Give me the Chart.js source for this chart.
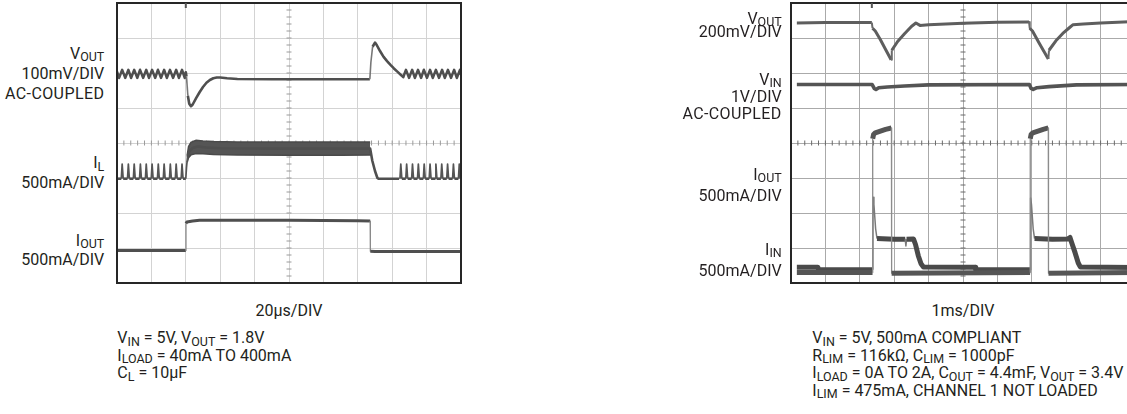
<!DOCTYPE html>
<html><head><meta charset="utf-8">
<script src="https://cdn.jsdelivr.net/npm/chart.js@4.4.1/dist/chart.umd.min.js"></script>
<style>
html,body{margin:0;padding:0;background:#fff;}
body{width:1127px;height:414px;overflow:hidden;position:relative;font-family:Roboto,"Liberation Sans",sans-serif;color:#231f20;}
.t{position:absolute;white-space:nowrap;font-size:16px;line-height:16px;}
.n{position:absolute;white-space:nowrap;font-size:16px;line-height:16px;}
.rl{right:1022.7px;text-align:right;}
.rr{right:345.3px;text-align:right;}
.w{letter-spacing:0.4px;}
sub{font-size:0.78em;vertical-align:baseline;position:relative;top:0.24em;letter-spacing:0;}
.cw{position:absolute;}
</style></head><body>

<div class="cw" style="left:107px;top:-6.7px;width:364px;height:300px;"><canvas id="cl"></canvas></div>
<div class="cw" style="left:781px;top:-6.7px;width:364px;height:300px;"><canvas id="cr"></canvas></div>

<div class="t rl" style="top:45.5px">V<sub>OUT</sub></div>
<div class="t rl" style="top:65.5px">100mV/DIV</div>
<div class="t rl w" style="top:85.5px">AC-COUPLED</div>
<div class="t rl" style="top:155px">I<sub>L</sub></div>
<div class="t rl" style="top:174.8px">500mA/DIV</div>
<div class="t rl" style="top:232.5px">I<sub>OUT</sub></div>
<div class="t rl" style="top:251.5px">500mA/DIV</div>

<div class="t rr" style="top:10.5px">V<sub>OUT</sub></div>
<div class="t rr" style="top:23.8px">200mV/DIV</div>
<div class="t rr" style="top:71.5px">V<sub>IN</sub></div>
<div class="t rr" style="top:89.2px">1V/DIV</div>
<div class="t rr w" style="top:105.8px">AC-COUPLED</div>
<div class="t rr" style="top:166.5px">I<sub>OUT</sub></div>
<div class="t rr" style="top:188.2px">500mA/DIV</div>
<div class="t rr" style="top:241.5px">I<sub>IN</sub></div>
<div class="t rr" style="top:262.5px">500mA/DIV</div>

<div class="n" style="left:189px;width:200px;text-align:center;top:302.5px">20µs/DIV</div>
<div class="n" style="left:863px;width:200px;text-align:center;top:302.5px">1ms/DIV</div>

<div class="n" style="left:117.3px;top:329.8px">V<sub>IN</sub> = 5V, V<sub>OUT</sub> = 1.8V</div>
<div class="n" style="left:117.3px;top:347.5px">I<sub>LOAD</sub> = 40mA TO 400mA</div>
<div class="n" style="left:117.3px;top:365px">C<sub>L</sub> = 10µF</div>

<div class="n" style="left:812.3px;top:329.8px">V<sub>IN</sub> = 5V, 500mA COMPLIANT</div>
<div class="n" style="left:812.3px;top:347.5px">R<sub>LIM</sub> = 116kΩ, C<sub>LIM</sub> = 1000pF</div>
<div class="n" style="left:812.3px;top:365.2px">I<sub>LOAD</sub> = 0A TO 2A, C<sub>OUT</sub> = 4.4mF, V<sub>OUT</sub> = 3.4V</div>
<div class="n" style="left:812.3px;top:382.5px">I<sub>LIM</sub> = 475mA, CHANNEL 1 NOT LOADED</div>

<script>
// ---- Left scope (20us/DIV): x in divisions 0..10, y in divisions 0..8 ----
const L_VOUT = [[0,6.04],[0.06,5.86],[0.15,6.09],[0.24,5.86],[0.33,6.09],[0.41,5.86],[0.50,6.09],[0.59,5.86],[0.67,6.09],[0.76,5.86],[0.85,6.09],[0.93,5.86],[1.02,6.09],[1.11,5.86],[1.19,6.09],[1.28,5.86],[1.37,6.09],[1.45,5.86],[1.54,6.09],[1.63,5.86],[1.72,6.09],[1.80,5.86],[1.89,6.09],[1.97,5.86],[2.00,6.02],[2.02,5.90],[2.06,5.35],[2.10,5.12],[2.15,5.05],[2.20,5.10],[2.30,5.28],[2.40,5.45],[2.50,5.60],[2.60,5.72],[2.70,5.80],[2.80,5.85],[2.90,5.87],[3.00,5.87],[3.20,5.85],[3.50,5.83],[4.50,5.82],[6.00,5.82],[7.35,5.82],[7.38,6.30],[7.43,6.75],[7.50,6.87],[7.55,6.80],[7.65,6.62],[7.75,6.46],[7.85,6.34],[7.95,6.23],[8.05,6.13],[8.15,6.04],[8.27,5.93],[8.32,5.88],[8.40,6.09],[8.49,5.86],[8.58,6.09],[8.66,5.86],[8.75,6.09],[8.84,5.86],[8.92,6.09],[9.01,5.86],[9.10,6.09],[9.18,5.86],[9.27,6.09],[9.36,5.86],[9.45,6.09],[9.53,5.86],[9.62,6.09],[9.71,5.86],[9.80,6.09],[9.88,5.86],[9.97,6.09],[10.0,5.95]];
const L_IL = [[0,2.98],[0.125,2.98],[0.15,3.40],[0.18,2.98],[0.305,2.98],[0.33,3.40],[0.36,2.98],[0.475,2.98],[0.50,3.40],[0.53,2.98],[0.655,2.98],[0.68,3.40],[0.71,2.98],[0.825,2.98],[0.85,3.40],[0.88,2.98],[0.995,2.98],[1.02,3.40],[1.05,2.98],[1.175,2.98],[1.20,3.40],[1.23,2.98],[1.345,2.98],[1.37,3.40],[1.40,2.98],[1.525,2.98],[1.55,3.40],[1.58,2.98],[1.695,2.98],[1.72,3.40],[1.75,2.98],[1.865,2.98],[1.89,3.40],[1.92,2.98],[2.00,2.98],[2.02,3.30],[2.05,3.60],[2.10,3.76],[2.20,3.86],[2.35,3.90],[2.60,3.87],[3.00,3.85],[5.00,3.84],[7.36,3.84],[7.42,3.50],[7.50,3.20],[7.57,3.00],[7.60,2.98],[8.20,2.98],[8.225,2.98],[8.25,3.40],[8.28,2.98],[8.395,2.98],[8.42,3.40],[8.45,2.98],[8.565,2.98],[8.59,3.40],[8.62,2.98],[8.735,2.98],[8.76,3.40],[8.79,2.98],[8.905,2.98],[8.93,3.40],[8.96,2.98],[9.075,2.98],[9.10,3.40],[9.13,2.98],[9.245,2.98],[9.27,3.40],[9.30,2.98],[9.415,2.98],[9.44,3.40],[9.47,2.98],[9.585,2.98],[9.61,3.40],[9.64,2.98],[9.755,2.98],[9.78,3.40],[9.81,2.98],[9.925,2.98],[9.95,3.40],[9.98,2.98],[10,2.98]];
const L_IL_HI = [[2.04,3.65],[2.08,3.90],[2.15,4.02],[2.30,4.08],[2.50,4.06],[2.80,4.04],[3.50,4.03],[5.00,4.03],[6.50,4.03],[7.36,4.03]];
const L_IL_LO = [[2.04,3.45],[2.08,3.58],[2.15,3.66],[2.30,3.70],[2.50,3.69],[2.80,3.67],[3.50,3.66],[5.00,3.65],[6.50,3.65],[7.36,3.66]];
const L_IOUT = [[0,0.93],[2.00,0.93],[2.005,1.70],[2.03,1.74],[2.20,1.77],[2.40,1.79],[3.00,1.79],[5.00,1.79],[7.00,1.78],[7.36,1.77],[7.365,0.91],[7.50,0.90],[10,0.90]];
const L_TRIG = 2.0;

// ---- Right scope (1ms/DIV) ----
const R_VOUT = [[0.17,7.43],[1.00,7.44],[2.00,7.44],[2.35,7.44],[2.37,7.28],[2.45,7.20],[2.60,6.95],[2.75,6.67],[2.91,6.38],[2.93,6.65],[3.10,6.90],[3.30,7.12],[3.50,7.33],[3.63,7.43],[3.75,7.36],[4.00,7.38],[5.00,7.42],[6.00,7.45],[6.92,7.46],[6.94,7.28],[7.02,7.20],[7.20,6.88],[7.35,6.62],[7.48,6.40],[7.50,6.65],[7.70,6.92],[7.90,7.13],[8.10,7.30],[8.20,7.38],[8.50,7.40],[9.00,7.43],[10.00,7.47]];
const R_VIN = [[0.17,5.67],[2.36,5.67],[2.42,5.56],[2.47,5.53],[2.55,5.58],[2.80,5.60],[3.30,5.63],[4.00,5.66],[6.93,5.67],[6.98,5.56],[7.04,5.53],[7.15,5.58],[7.50,5.61],[8.30,5.66],[10.00,5.67]];
const R_IOUT = [[0.17,0.30],[2.37,0.30],[2.375,4.12],[2.40,4.24],[2.45,4.29],[2.60,4.34],[2.75,4.39],[2.92,4.43],[2.925,0.28],[6.95,0.30],[6.955,4.12],[6.98,4.24],[7.03,4.29],[7.18,4.34],[7.33,4.39],[7.48,4.43],[7.485,0.28],[10,0.30]];
const R_IIN = [[0.17,0.45],[0.78,0.45],[0.80,0.38],[2.38,0.38],[2.385,2.45],[2.41,2.25],[2.46,1.55],[2.50,1.27],[3.00,1.25],[3.32,1.25],[3.34,1.06],[3.36,1.25],[3.56,1.26],[3.62,1.10],[3.70,0.78],[3.78,0.55],[3.85,0.46],[5.35,0.45],[5.37,0.38],[6.96,0.38],[6.965,2.43],[6.99,2.25],[7.04,1.55],[7.08,1.27],[7.60,1.25],[8.05,1.26],[8.11,1.30],[8.17,1.12],[8.26,0.86],[8.35,0.57],[8.41,0.46],[10.00,0.44]];
const R_TRIG = 2.35;

const X_DIVS = [0,10], Y_DIVS = [0,8];

function pts(a){return a.map(p=>({x:p[0],y:p[1]}));}
function steep(c){const dx=Math.abs(c.p1.x-c.p0.x), dy=Math.abs(c.p1.y-c.p0.y); return dy>5 && dy>6*dx;}
const edgeSeg = (col,w)=>({
  borderWidth: c => steep(c) ? w : undefined,
  borderColor: c => steep(c) ? col : undefined
});
function trace(data,color,w,edgeCol,edgeW){
  return {data:pts(data),borderColor:color,borderWidth:w,pointRadius:0,tension:0,fill:false,
          borderJoinStyle:'round',borderCapStyle:'butt',segment:edgeSeg(edgeCol||'#8c8c8c',edgeW||1.3)};
}
const scopePlugin = {
  id:'scope',
  beforeDatasetsDraw(chart,args,opt){
    const {ctx,scales:{x,y}} = chart;
    ctx.save();
    ctx.strokeStyle = opt.tickColor; ctx.lineWidth = 1;
    const yc = y.getPixelForValue((Y_DIVS[0]+Y_DIVS[1])/2), xc = x.getPixelForValue((X_DIVS[0]+X_DIVS[1])/2);
    ctx.beginPath();
    for(let v=X_DIVS[0]; v<=X_DIVS[1]+1e-9; v+=0.2){const px=x.getPixelForValue(v); ctx.moveTo(px,yc-2.5); ctx.lineTo(px,yc+2.5);}
    for(let v=Y_DIVS[0]; v<=Y_DIVS[1]+1e-9; v+=0.2){const py=y.getPixelForValue(v); ctx.moveTo(xc-2.5,py); ctx.lineTo(xc+2.5,py);}
    ctx.stroke();
    ctx.restore();
  },
  afterDraw(chart,args,opt){
    const {ctx,chartArea:a,scales:{x}} = chart;
    ctx.save();
    ctx.strokeStyle = '#262626'; ctx.lineWidth = 2;
    ctx.strokeRect(a.left, a.top, a.right-a.left, a.bottom-a.top);
    const tx = x.getPixelForValue(opt.trig);
    ctx.fillStyle = '#555';
    ctx.fillRect(tx-1, a.top, 2, 5);
    ctx.restore();
  }
};
function makeScope(id, datasets, gridColor, tickColor, trig){
  return new Chart(document.getElementById(id), {
    type:'line',
    data:{datasets},
    plugins:[scopePlugin],
    options:{
      responsive:true, maintainAspectRatio:false, animation:false,
      layout:{padding:10},
      plugins:{legend:{display:false}, tooltip:{enabled:false}, scope:{tickColor, trig}},
      scales:{
        x:{type:'linear',min:X_DIVS[0],max:X_DIVS[1],ticks:{display:false,stepSize:1},grid:{color:gridColor,drawTicks:false,lineWidth:1},border:{display:false}},
        y:{type:'linear',min:Y_DIVS[0],max:Y_DIVS[1],ticks:{display:false,stepSize:1},grid:{color:gridColor,drawTicks:false,lineWidth:1},border:{display:false}}
      }
    }
  });
}
const LC = '#4f4f4f';
makeScope('cl', [
  trace(L_VOUT, LC, 2.6, '#777777', 1.6),
  trace(L_IL, LC, 2.6, '#555555', 1.7),
  {data:pts(L_IL_HI),borderColor:'#4a4a4a',borderWidth:1.5,pointRadius:0,fill:false},
  {data:pts(L_IL_LO),borderColor:'#4a4a4a',borderWidth:1.5,pointRadius:0,fill:'-1',backgroundColor:'#555555'},
  trace(L_IOUT, LC, 3, '#8a8a8a', 1.3)
], '#d3d3d3', '#9a9a9a', L_TRIG);
makeScope('cr', [
  trace(R_VOUT, '#5e5e5e', 3, '#6a6a6a', 2),
  trace(R_VIN, '#545454', 3.6, '#6a6a6a', 2),
  trace(R_IOUT, '#555555', 5, '#8c8c8c', 1.3),
  trace(R_IIN, '#4a4a4a', 5, '#7a7a7a', 1.5)
], '#aaaaaa', '#6a6a6a', R_TRIG);
</script>
</body></html>
